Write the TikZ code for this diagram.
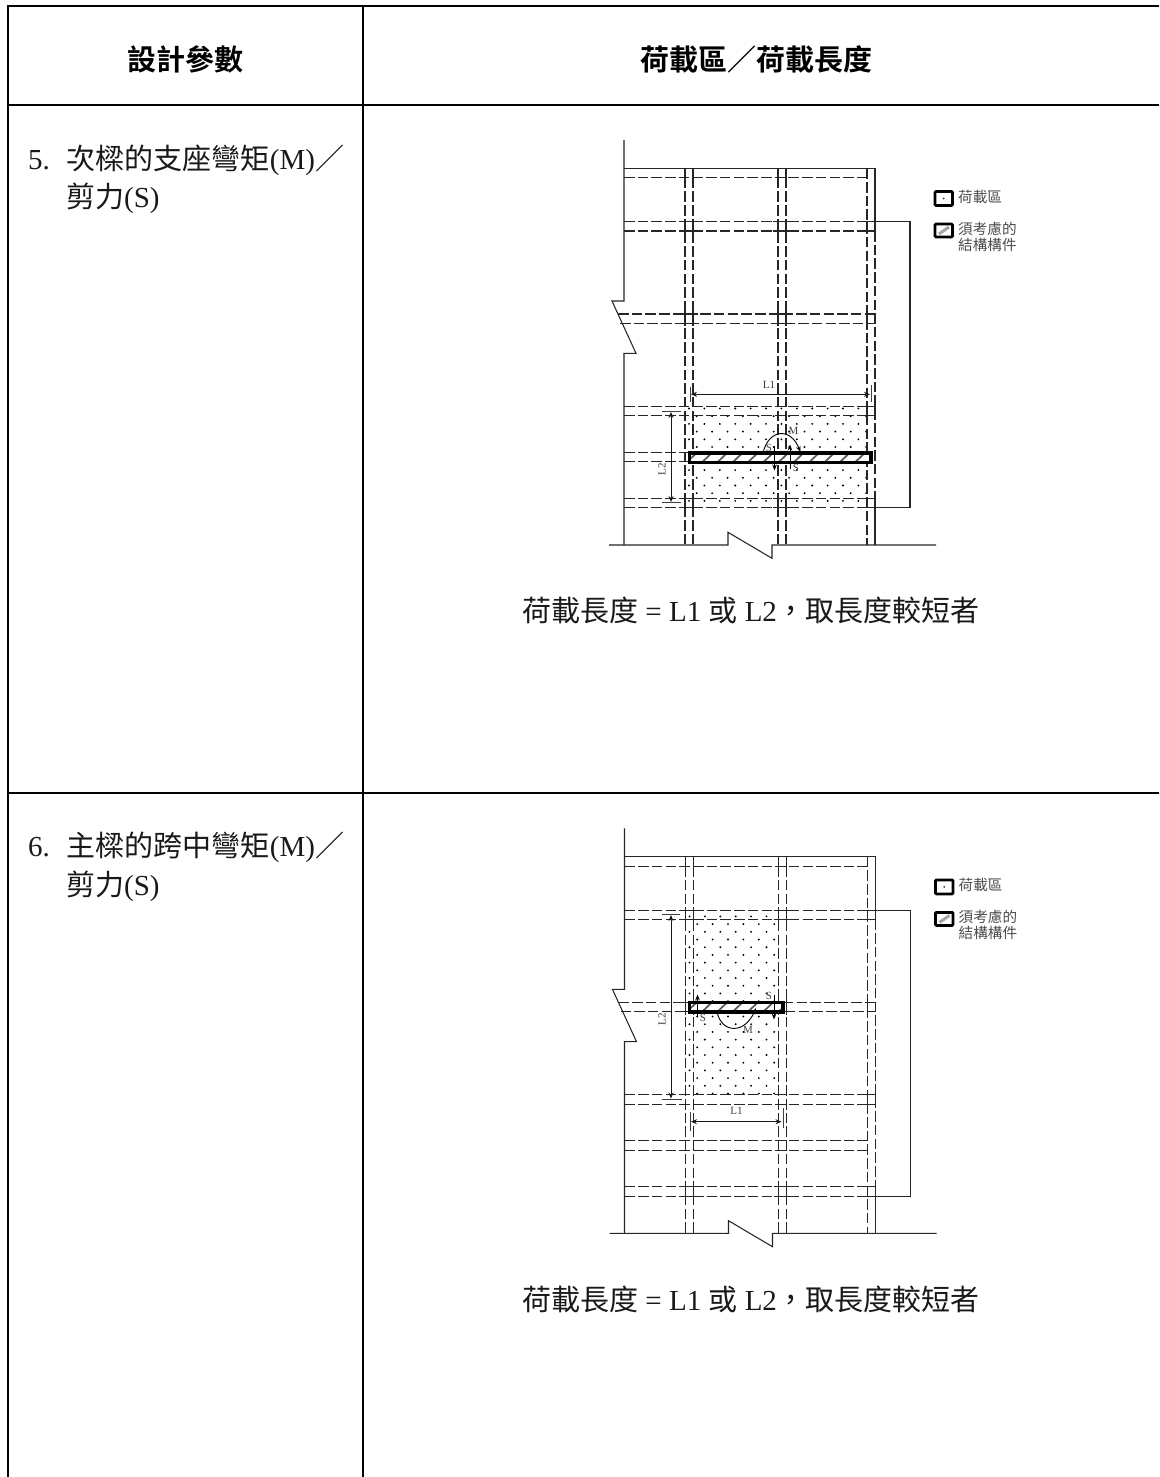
\documentclass[tikz,border=0pt]{standalone}
\usepackage{fontspec}
\setmainfont{Liberation Serif}
\newfontfamily\cjk{Noto Sans CJK TC}
\newfontfamily\cjkb[BoldFont={Noto Sans CJK TC Bold}]{Noto Sans CJK TC}
\usetikzlibrary{arrows.meta}
\tikzset{
  tableline/.style={line width=2pt,black},
  solidline/.style={line width=1.05pt,black!85},
  dashline/.style={line width=1.05pt,black!85,dash pattern=on 10.5pt off 3.2pt},
  dimline/.style={line width=0.9pt,black!90,{Stealth[length=6pt,width=5pt]}-{Stealth[length=6pt,width=5pt]}},
  force/.style={line width=0.9pt,black,-{Stealth[length=6pt,width=4.6pt]}},
  tick/.style={line width=0.9pt,black!75},
  beamedge/.style={line width=3.2pt,black},
  hatchline/.style={line width=1.7pt,black!65},
  bodytext/.style={anchor=base west,inner sep=0pt,black!90,font=\fontsize{29}{29}\selectfont},
  headtext/.style={anchor=center,inner sep=0pt,black,font=\fontsize{29}{29}\selectfont},
  smalltext/.style={anchor=center,inner sep=0pt,black!75,font=\fontsize{11}{11}\selectfont},
  legendtext/.style={anchor=base west,inner sep=0pt,black!70,font=\cjk\fontsize{14.6}{14.6}\selectfont},
  legendbox/.style={draw=black,line width=2.8pt,rounded corners=1pt,fill=white},
}
% frame of a panel, in the coordinates of the upper panel
\newcommand{\framepanel}{%
  % dashed rows
  \foreach \ya/\yb in {221.7/231,406.3/415.7,452.3/461.7,498.3/507.7}
    {\draw[dashline] (624,\ya) -- (866,\ya); \draw[dashline] (624,\yb) -- (866,\yb);}
  \draw[dashline] (624,177.7) -- (866,177.7);
  \draw[dashline] (618,314) -- (866,314);
  \draw[dashline] (620,323.3) -- (866,323.3);
  % dashed columns
  \foreach \x in {685,693,778,786}
    {\draw[dashline] (\x,177.7) -- (\x,545);
     \draw[solidline] (\x,168.3) -- (\x,177.7);}
  \draw[dashline] (867,168.3) -- (867,545);
  \draw[dashline] (875,231) -- (875,498.3);
  % solid parts of the crossings
  \foreach \ya/\yb in {221.7/231,314/323.3,498.3/507.7}
    \foreach \x in {685,693,778,786}
      {\draw[solidline] (\x,\ya-3) -- (\x,\yb+3);}
  \foreach \ya/\yb in {221.7/231,314/323.3,498.3/507.7}
    \foreach \xa/\xb in {680/698,773/791}
      {\draw[solidline] (\xa,\ya) -- (\xb,\ya); \draw[solidline] (\xa,\yb) -- (\xb,\yb);}
  % boxes at the right wall
  \foreach \ya/\yb in {221.7/231,314/323.3,406.3/415.7,498.3/507.7}
    {\draw[solidline] (867,\ya) rectangle (875,\yb);}
  % walls
  \draw[solidline] (624,140) -- (624,301) -- (612,301) -- (636,353.3) -- (624,353.3) -- (624,545);
  \draw[solidline] (624,168.3) -- (875,168.3) -- (875,221.7) -- (910,221.7) -- (910,507.7) -- (867,507.7);
  \draw[solidline] (875,507.7) -- (875,545);
  \draw[solidline] (609,545) -- (728,545) -- (728,532.3) -- (772,558.3) -- (772,545) -- (936,545);
  % legend
  \draw[legendbox] (935,191.5) rectangle (952.5,205.5);
  \fill[black!80] (943.7,198.5) circle (1);
  \node[legendtext] (legendA) at (958,202.5) {荷載區};
  \draw[legendbox] (935,224) rectangle (952.5,237);
  \draw[line width=3pt,black!35] (939,234) -- (949,227);
  \node[legendtext] (legendB) at (958,234.5) {須考慮的};
  \node[legendtext] (legendC) at (958,250.5) {結構構件};
}
% dots: #1 x0, #2 columns, #3 y0, #4 rows
\newcommand{\dotfield}[4]{%
  \foreach \j in {0,...,#4}{
    \foreach \i in {0,...,#2}{
      \pgfmathsetmacro{\dx}{#1+15.4*\i+7.7*mod(\j,2)}
      \pgfmathsetmacro{\dy}{#3+7.7*\j}
      \fill[black] (\dx,\dy) circle (1.05);
    }
  }
}
% beam: #1 x0, #2 y0, #3 x1, #4 y1
\newcommand{\beamshape}[4]{%
  \fill[white] (#1,#2) rectangle (#3,#4);
  \begin{scope}
    \clip (#1,#2) rectangle (#3,#4);
    \foreach \h in {0,...,12}{
      \draw[hatchline] (#1+15.3*\h-3,#4) -- (#1+15.3*\h+7,#2);
    }
  \end{scope}
  \draw[beamedge] (#1,#2) rectangle (#3,#4);
}
\begin{document}
\begin{tikzpicture}[x=1pt,y=-1pt]
\useasboundingbox (0,0) rectangle (1159,1477);
\fill[white] (0,0) rectangle (1159,1477);
% table
\draw[tableline] (1159,6.5) -- (7.7,6.5) -- (7.7,1477);
\draw[tableline] (363,6.5) -- (363,1477);
\draw[tableline] (7.7,105) -- (1159,105);
\draw[tableline] (7.7,792.7) -- (1159,792.7);
\node[headtext] (headA) at (185.5,59) {\cjkb\bfseries 設計參數};
\node[headtext] (headB) at (756.5,59) {\cjkb\bfseries 荷載區／荷載長度};
\node[bodytext] (rowAa) at (28,169.5) {5.\hspace{17pt}{\cjk 次樑的支座彎矩}(M){\cjk ／}};
\node[bodytext] (rowAb) at (66,207.5) {{\cjk 剪力}(S)};
\node[bodytext] (rowBa) at (28,856.5) {6.\hspace{17pt}{\cjk 主樑的跨中彎矩}(M){\cjk ／}};
\node[bodytext] (rowBb) at (66,895) {{\cjk 剪力}(S)};
\node[bodytext] (noteA) at (522,621) {{\cjk 荷載長度} = L1 {\cjk 或} L2{\cjk ，取長度較短者}};
\node[bodytext] (noteB) at (522,1310) {{\cjk 荷載長度} = L1 {\cjk 或} L2{\cjk ，取長度較短者}};
% upper panel
\dotfield{689}{11}{408.5}{12}
\framepanel
\beamshape{689.5}{453}{871}{462.5}
\draw[tick] (690,387) -- (690,402);
\draw[tick] (871.5,385) -- (871.5,402);
\draw[dimline] (691,394.3) -- (870,394.3);
\node[smalltext] (uL1) at (769,384.5) {L1};
\draw[tick] (662,411.5) -- (681,411.5);
\draw[tick] (662,502.5) -- (681,502.5);
\draw[dimline] (671,412) -- (671,502);
\node[smalltext,rotate=90] (uL2) at (662,469.5) {L2};
\draw[force] (763,453) .. controls (768,430) and (790,426) .. (800.5,452);
\draw[force] (774.5,446) -- (774.5,470.5);
\draw[force] (790,469) -- (790,444.5);
\node[smalltext] (uM) at (793.5,431) {M};
\node[smalltext] (uSa) at (769,447.5) {S};
\node[smalltext] (uSb) at (796,467.5) {S};
% lower panel
\begin{scope}[shift={(0.5,688.4)}]
  \dotfield{689}{5}{228}{23}
  \framepanel
\end{scope}
\beamshape{689.5}{1002.5}{783}{1012}
\draw[tick] (690,1112) -- (690,1131);
\draw[tick] (783,1108) -- (783,1128);
\draw[dimline] (691,1121.7) -- (781.5,1121.7);
\node[smalltext] (lL1) at (736.5,1111) {L1};
\draw[tick] (662,914.5) -- (680,914.5);
\draw[tick] (662,1099) -- (682,1099);
\draw[dimline] (671,915) -- (671,1098.5);
\node[smalltext,rotate=90] (lL2) at (662,1019) {L2};
\draw[force] (717,1012) .. controls (722,1034) and (745,1034) .. (756,1008);
\draw[force] (697.5,1017) -- (697.5,994.5);
\draw[force] (774,995) -- (774,1019.5);
\node[smalltext] (lM) at (748,1030) {M};
\node[smalltext] (lSa) at (703,1017.5) {S};
\node[smalltext] (lSb) at (769,995.5) {S};
\end{tikzpicture}
\end{document}
